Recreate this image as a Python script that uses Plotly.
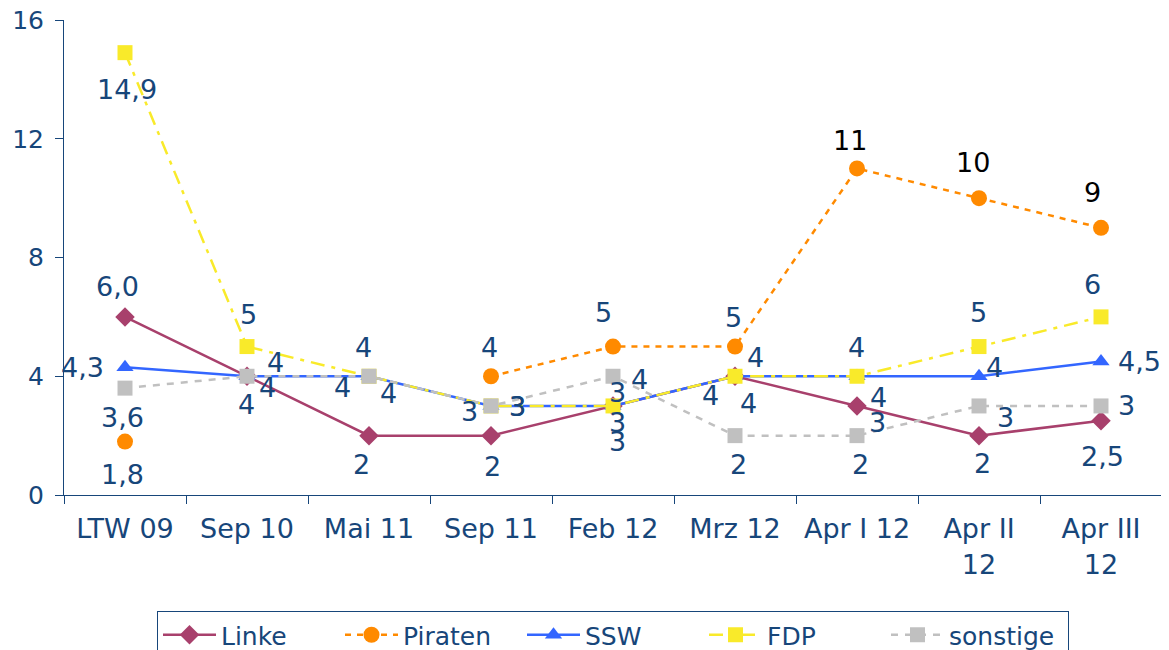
import plotly.graph_objects as go

# ---------------- data ----------------
categories = ["LTW 09", "Sep 10", "Mai 11", "Sep 11", "Feb 12", "Mrz 12",
              "Apr I 12", "Apr II<br>12", "Apr III<br>12"]
linke = [6.0, 4, 2, 2, 3, 4, 3, 2, 2.5]
piraten = [1.8, None, None, 4, 5, 5, 11, 10, 9]
ssw = [4.3, 4, 4, 3, 3, 4, 4, 4, 4.5]
fdp = [14.9, 5, 4, 3, 3, 4, 4, 5, 6]
sonstige = [3.6, 4, 4, 3, 4, 2, 2, 3, 3]
y_ticks = [0, 4, 8, 12, 16]

# ---------------- style ----------------
NAVY = "#17467A"
FONT = "DejaVu Sans"
FS = 27
W, H = 1161, 642   # page body has an 8px margin

series = [
    dict(name="Linke", y=linke, color="#A8406C", dash="solid", symbol="diamond", size=15,
         offs=[(-8, 30), (20, -11), (-8, -29), (1, -31), (4, -36), (13, -27), (20, -17), (3, -28), (1, -36)],
         lcol=[NAVY] * 9),
    dict(name="Piraten", y=piraten, color="#FF8A00", dash="6px,6px", symbol="circle", size=16,
         offs=[(-3, -33), None, None, (-2, 29), (-10, 34), (-2, 29), (-7, 28), (-6, 36), (-9, 35)],
         lcol=[NAVY] * 6 + ["#000000"] * 3),
    dict(name="SSW", y=ssw, color="#3366FF", dash="solid", symbol="triangle-up", size=15,
         offs=[(-43, 0), (28, 14), (-27, -11), (26, -1), (4, -17), (20, 19), (21, -21), (15, 9), (38, 0)],
         lcol=[NAVY] * 9),
    dict(name="FDP", y=fdp, color="#F9EA2A", dash="14px,7px,4px,7px", symbol="square", size=15,
         offs=[(2, -37), (1, 32), (-6, 29), (26, -1), (4, 13), (-25, -19), (-1, 29), (-1, 34), (-9, 32)],
         lcol=[NAVY] * 9),
    dict(name="sonstige", y=sonstige, color="#C0C0C0", dash="7px,7px", symbol="square", size=15,
         offs=[(-3, -29), (-1, -28), (19, -17), (-22, -6), (26, -3), (3, -29), (3, -29), (26, -12), (25, 0)],
         lcol=[NAVY] * 9),
]


def fmt(v, i):
    if i == 0:
        return f"{v:.1f}".replace(".", ",")
    return f"{v:g}".replace(".", ",")


fig = go.Figure()
annotations = []
for s in series:
    fig.add_trace(go.Scatter(
        x=categories, y=s["y"], name=s["name"], mode="lines+markers",
        connectgaps=False,
        line=dict(color=s["color"], width=2.5, dash=s["dash"]),
        marker=dict(symbol=s["symbol"], size=s["size"], color=s["color"]),
    ))
    for i, (c, v) in enumerate(zip(categories, s["y"])):
        if v is None:
            continue
        dx, dy = s["offs"][i]
        annotations.append(dict(
            x=c, y=v, xref="x", yref="y", text=fmt(v, i), showarrow=False,
            xshift=dx, yshift=dy, font=dict(family=FONT, size=FS, color=s["lcol"][i]),
        ))

fig.update_layout(
    width=W, height=H,
    margin=dict(l=56, r=7, t=12, b=155, autoexpand=False),
    paper_bgcolor="white", plot_bgcolor="white",
    font=dict(family=FONT, size=FS, color=NAVY),
    showlegend=True,
    legend=dict(orientation="h", x=0.5, xanchor="center",
                yref="container", y=(H - 603) / H, yanchor="top",
                bordercolor=NAVY, borderwidth=1, font=dict(family=FONT, size=25, color=NAVY),
                itemwidth=53, tracegroupgap=0, entrywidthmode="pixels", entrywidth=114),
    annotations=annotations,
)
fig.update_xaxes(type="category", range=[-0.5, 8.5], showgrid=False, zeroline=False,
                 automargin=False, ticklabeloverflow="allow",
                 showline=True, linecolor=NAVY, linewidth=1,
                 ticks="outside", tickson="boundaries", ticklen=8, tickcolor=NAVY,
                 tickfont=dict(family=FONT, size=FS, color=NAVY), ticklabelstandoff=10)
fig.update_yaxes(range=[0, 16], tickvals=y_ticks, showgrid=False, zeroline=False,
                 automargin=False, ticklabeloverflow="allow",
                 showline=True, linecolor=NAVY, linewidth=1,
                 ticks="outside", ticklen=8, tickcolor=NAVY,
                 tickfont=dict(family=FONT, size=25, color=NAVY), ticklabelstandoff=6)

fig.write_html("out.html")
